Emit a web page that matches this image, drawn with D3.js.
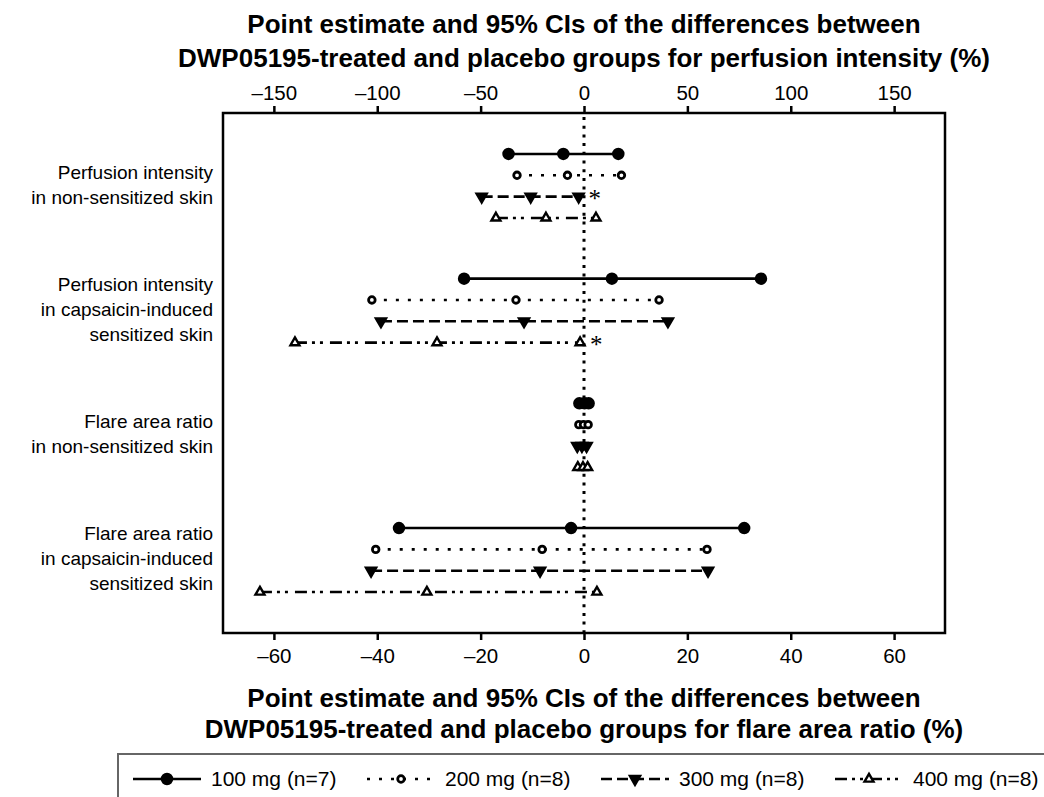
<!DOCTYPE html>
<html>
<head>
<meta charset="utf-8">
<script src="https://cdn.jsdelivr.net/npm/d3@7"></script>
<style>
  body { margin: 0; background: #fff; }
  svg { display: block; font-family: "Liberation Sans", Arial, sans-serif; }
</style>
</head>
<body>
<div id="chart"></div>
<script>
// outcome rows (each label split in lines)
const outcomes = [
    ['Perfusion intensity', 'in non-sensitized skin'],
    ['Perfusion intensity', 'in capsaicin-induced', 'sensitized skin'],
    ['Flare area ratio', 'in non-sensitized skin'],
    ['Flare area ratio', 'in capsaicin-induced', 'sensitized skin']
];
// which x axis each outcome is read on
const outcomeAxis = ['perfusion', 'perfusion', 'flare', 'flare'];

const doses = ['100 mg (n=7)', '200 mg (n=8)', '300 mg (n=8)', '400 mg (n=8)'];

// point estimates and 95% CI, one array per outcome, one value per dose
const lower = [
    [-36.5, -32.4, -49.5, -42.6],
    [-58.0, -102.6, -98.2, -139.8],
    [-0.9, -1.0, -1.3, -1.2],
    [-35.8, -40.3, -41.2, -62.7]
];
const estimate = [
    [-10.0, -8.0, -25.8, -18.4],
    [13.5, -32.9, -29.0, -71.1],
    [0.1, -0.1, -0.4, -0.2],
    [-2.5, -8.1, -8.5, -30.4]
];
const upper = [
    [16.6, 18.1, -2.6, 5.8],
    [85.6, 36.3, 40.6, -1.9],
    [0.9, 0.8, 0.5, 0.7],
    [31.0, 23.8, 24.0, 2.5]
];
const significant = [
    [false, false, true, false],
    [false, false, false, true],
    [false, false, false, false],
    [false, false, false, false]
];

const topTicks = [-150, -100, -50, 0, 50, 100, 150];
const bottomTicks = [-60, -40, -20, 0, 20, 40, 60];

const titleTop = ['Point estimate and 95% CIs of the differences between',
    'DWP05195-treated and placebo groups for perfusion intensity (%)'];
const titleBottom = ['Point estimate and 95% CIs of the differences between',
    'DWP05195-treated and placebo groups for flare area ratio (%)'];

// styles per dose
const doseStyle = [
    { dash: null, symbol: d3.symbolCircle, size: 80, fill: '#000', rotate: 0 },
    { dash: '3,9', symbol: d3.symbolCircle, size: 34, fill: '#fff', rotate: 0 },
    { dash: '11,5', symbol: d3.symbolTriangle, size: 45, fill: '#000', rotate: 180 },
    { dash: '12,5,3,5,3,7', symbol: d3.symbolTriangle, size: 35, fill: '#fff', rotate: 0 }
];

const W = 1044, H = 797;
const margin = { top: 113, right: 99, bottom: 164, left: 223 };

const svg = d3.select('#chart').append('svg')
    .attr('width', W)
    .attr('height', H);

const x0 = margin.left, x1 = W - margin.right;
const y0 = margin.top, y1 = H - margin.bottom;

const xTop = d3.scaleLinear().domain([-174.6, 174.6]).range([x0, x1]);
const xBottom = d3.scaleLinear().domain([-69.85, 69.85]).range([x0, x1]);
const xFor = { perfusion: xTop, flare: xBottom };

const yGroup = d3.scalePoint()
    .domain(d3.range(outcomes.length))
    .range([y0, y1])
    .padding(0.585);
const yDose = d3.scalePoint()
    .domain(d3.range(doses.length))
    .range([-32, 32]);

const fmt = d => d < 0 ? '\u2013' + Math.abs(d) : String(d);

// titles
svg.append('g').selectAll('text')
    .data(titleTop)
    .join('text')
    .attr('x', (x0 + x1) / 2)
    .attr('y', (d, i) => 33 + i * 34)
    .attr('text-anchor', 'middle')
    .style('font-size', '26px')
    .style('font-weight', 'bold')
    .text(d => d);

svg.append('g').selectAll('text')
    .data(titleBottom)
    .join('text')
    .attr('x', (x0 + x1) / 2)
    .attr('y', (d, i) => 707 + i * 31)
    .attr('text-anchor', 'middle')
    .style('font-size', '26px')
    .style('font-weight', 'bold')
    .text(d => d);

// axes
const topAxis = svg.append('g')
    .attr('transform', `translate(0,${y0})`)
    .call(d3.axisTop(xTop).tickValues(topTicks).tickSize(7).tickPadding(6).tickFormat(fmt));
const bottomAxis = svg.append('g')
    .attr('transform', `translate(0,${y1})`)
    .call(d3.axisBottom(xBottom).tickValues(bottomTicks).tickSize(7).tickPadding(8).tickFormat(fmt));
[topAxis, bottomAxis].forEach(a => {
    a.select('.domain').remove();
    a.selectAll('line').attr('stroke', '#000').attr('stroke-width', 2.5);
    a.selectAll('text')
        .attr('fill', '#000')
        .style('font-size', '20.5px')
        .style('font-family', '"Liberation Sans", Arial, sans-serif');
});

// zero reference line
svg.append('line')
    .attr('x1', xTop(0)).attr('x2', xTop(0))
    .attr('y1', y0 + 4).attr('y2', y1)
    .attr('stroke', '#000')
    .attr('stroke-width', 3)
    .attr('stroke-dasharray', '3,5.7');

// frame
svg.append('rect')
    .attr('x', x0).attr('y', y0)
    .attr('width', x1 - x0).attr('height', y1 - y0)
    .attr('fill', 'none')
    .attr('stroke', '#000')
    .attr('stroke-width', 2.5);

// row labels
const labels = svg.append('g').selectAll('text')
    .data(outcomes)
    .join('text')
    .attr('text-anchor', 'end')
    .style('font-size', '19px')
    .attr('fill', '#000');
labels.selectAll('tspan')
    .data((d, i) => d.map((t, j) => ({ t, j, n: d.length, i })))
    .join('tspan')
    .attr('x', 213)
    .attr('y', d => yGroup(d.i) - 1.5 + (d.j - (d.n - 1) / 2) * 25)
    .attr('dy', '0.35em')
    .text(d => d.t);

// CI rows
const rows = outcomes.flatMap((o, i) => doses.map((dose, k) => ({
    i, k,
    scale: xFor[outcomeAxis[i]],
    lo: lower[i][k], est: estimate[i][k], hi: upper[i][k],
    sig: significant[i][k]
})));

const rowG = svg.append('g').selectAll('g')
    .data(rows)
    .join('g')
    .attr('transform', d => `translate(0,${yGroup(d.i) + yDose(d.k)})`);

rowG.append('line')
    .attr('x1', d => d.scale(d.lo))
    .attr('x2', d => d.scale(d.hi))
    .attr('stroke', '#000')
    .attr('stroke-width', 2.6)
    .attr('stroke-dasharray', d => doseStyle[d.k].dash);

rowG.selectAll('path')
    .data(d => [d.lo, d.est, d.hi].map(v => ({ v, d })))
    .join('path')
    .attr('transform', p => `translate(${p.d.scale(p.v)},0) rotate(${doseStyle[p.d.k].rotate})`)
    .attr('d', p => d3.symbol(doseStyle[p.d.k].symbol, doseStyle[p.d.k].size)())
    .attr('fill', p => doseStyle[p.d.k].fill)
    .attr('stroke', '#000')
    .attr('stroke-width', p => p.d.k === 1 ? 2.8 : 2.4);

// significance marks
rowG.filter(d => d.sig)
    .append('text')
    .attr('x', d => d.scale(d.hi) + 10)
    .attr('y', 10)
    .style('font-family', '"Liberation Serif", "Times New Roman", serif')
    .style('font-size', '25px')
    .text('*');

// legend
const legendY = 754;
const legendX = d3.scalePoint().domain(d3.range(doses.length)).range([133, 835]);

svg.append('path')
    .attr('d', `M118,${H + 5}V${legendY}H${W + 5}`)
    .attr('fill', 'none')
    .attr('stroke', '#666')
    .attr('stroke-width', 2);

const legItem = svg.append('g').selectAll('g')
    .data(doses)
    .join('g')
    .attr('transform', (d, k) => `translate(${legendX(k)},${legendY + 25})`);

legItem.append('line')
    .attr('x1', 0).attr('x2', 68)
    .attr('stroke', '#000')
    .attr('stroke-width', 2.6)
    .attr('stroke-dasharray', (d, k) => doseStyle[k].dash);

legItem.append('path')
    .attr('transform', (d, k) => `translate(34,0) rotate(${doseStyle[k].rotate})`)
    .attr('d', (d, k) => d3.symbol(doseStyle[k].symbol, doseStyle[k].size)())
    .attr('fill', (d, k) => doseStyle[k].fill)
    .attr('stroke', '#000')
    .attr('stroke-width', (d, k) => k === 1 ? 2.8 : 2.4);

legItem.append('text')
    .attr('x', 78)
    .attr('dy', '0.35em')
    .style('font-size', '21px')
    .text(d => d);
</script>
</body>
</html>
